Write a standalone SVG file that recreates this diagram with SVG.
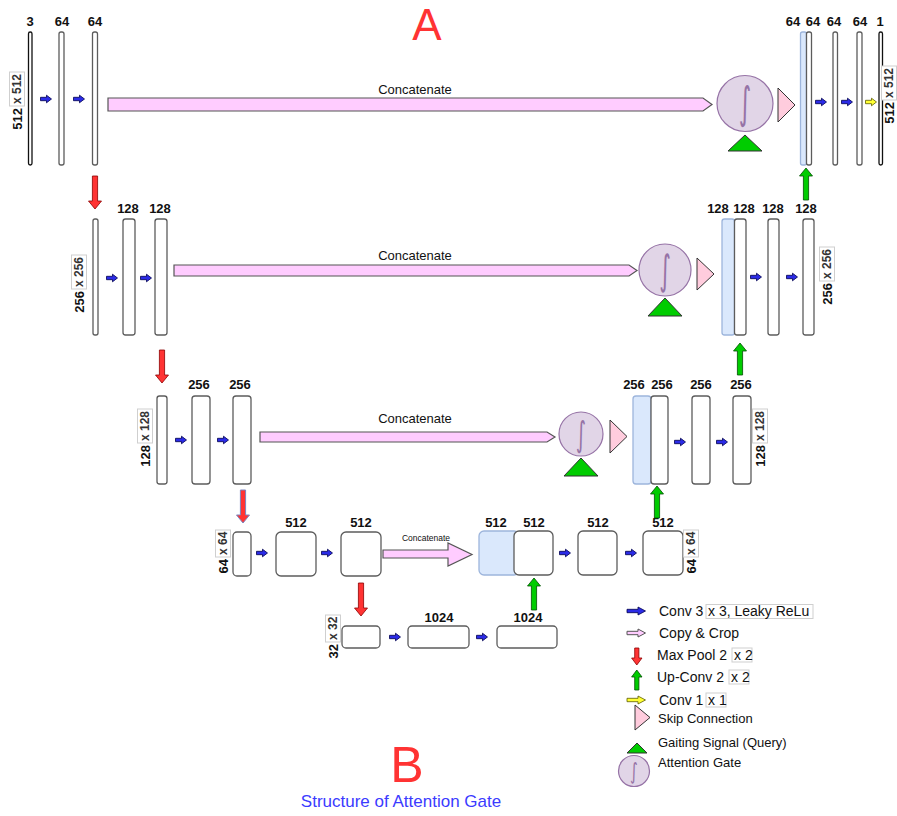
<svg xmlns="http://www.w3.org/2000/svg" width="897" height="816" viewBox="0 0 897 816">
<style>
.bar{fill:#fff;stroke:#5c5c5c;stroke-width:1.3}
.bar0{fill:#fff;stroke:#111;stroke-width:1.3}
.cat{fill:#dae8fc;stroke:#9db5dc;stroke-width:1.3}
.lbl{font:bold 13px "Liberation Sans",Arial,sans-serif;text-anchor:middle;fill:#111}
.dim{font:bold 13px "Liberation Sans",Arial,sans-serif;fill:#111}
.dimb{font:bold 12px "Liberation Sans",Arial,sans-serif;fill:#333}
.dimbox{fill:#fff;stroke:#cfcfcf;stroke-width:1}
.conv{fill:#2b2be6;stroke:#00004d;stroke-width:0.8}
.c11{fill:#ffff33;stroke:#5c5c00;stroke-width:0.8}
.pool{fill:#ff3333;stroke:#8b0000;stroke-width:0.8}
.pool2{fill:#ff3333;stroke:#7a86c0;stroke-width:1}
.up{fill:#00cc00;stroke:#004d00;stroke-width:0.8}
.copy{fill:#ffccff;stroke:#555;stroke-width:1.2}
.skip{fill:#ffccdd;stroke:#333;stroke-width:1}
.gate{fill:#00cc00;stroke:#333;stroke-width:1}
.ag{fill:#e1d5e7;stroke:#9673a6;stroke-width:1.2}
.int{font-family:"DejaVu Sans","Liberation Sans",sans-serif;font-size:30px;fill:#9673a6;text-anchor:middle}
.cc{font:13px "Liberation Sans",Arial,sans-serif;text-anchor:middle;fill:#111}
.leg{font:14px "Liberation Sans",Arial,sans-serif;fill:#111}
.leg2{font:13px "Liberation Sans",Arial,sans-serif;fill:#111}
.legbox{fill:none;stroke:#cfcfcf;stroke-width:1}
</style>
<defs>
<path id="cv" d="M-5.5,-1.7 H0.5 V-3.8 L5.5,0 L0.5,3.8 V1.7 H-5.5 Z"/>
<path id="dn" d="M-2.6,0 H2.6 V25 H6.5 L0,33 L-6.5,25 H-2.6 Z"/>
<path id="upa" d="M0,0 L6.5,8 H2.6 V32 H-2.6 V8 H-6.5 Z"/>
</defs>

<text x="427" y="40" style="font:44px 'Liberation Sans',Arial,sans-serif;fill:#ff3333" text-anchor="middle">A</text>
<text x="407" y="782" style="font:50px 'Liberation Sans',Arial,sans-serif;fill:#ff3333" text-anchor="middle">B</text>
<text x="401" y="807" style="font:17px 'Liberation Sans',Arial,sans-serif;fill:#3b3bff" text-anchor="middle">Structure of Attention Gate</text>

<!-- Row 1 -->
<g id="r1-in"><rect class="bar0" x="28.5" y="32" width="3.5" height="133" rx="1.7"/><text class="lbl" x="30" y="26">3</text>
<g transform="translate(17,106) rotate(-90)"><text class="dim" x="-2" y="4.5" text-anchor="end">512</text><rect class="dimbox" x="0" y="-7.5" width="34" height="15"/><text class="dimb" x="2" y="4.3">x 512</text></g></g>
<g id="r1-c1"><rect class="bar" x="59" y="32" width="5" height="133" rx="2"/><text class="lbl" x="62" y="26">64</text></g>
<g id="r1-c2"><rect class="bar" x="92.5" y="32" width="5" height="133" rx="2"/><text class="lbl" x="95" y="26">64</text></g>
<g id="r1-ag"><circle class="ag" cx="745" cy="103.5" r="28"/><text class="int" transform="translate(745,103.5) scale(0.8,1.45)" y="10">∫</text></g>
<g id="r1-gate"><path class="gate" d="M728,151 L745,135 L762,151 Z"/></g>
<g id="r1-skip"><path class="skip" d="M778,88 L795,105 L778,122 Z"/></g>
<g id="r1-cat"><rect class="cat" x="800.5" y="32" width="6" height="133" rx="2"/><text class="lbl" x="793" y="26">64</text></g>
<g id="r1-u0"><rect class="bar" x="806.5" y="32" width="5" height="133" rx="2"/><text class="lbl" x="813" y="26">64</text></g>
<g id="r1-u1"><rect class="bar" x="833" y="32" width="4.5" height="133" rx="2"/><text class="lbl" x="834" y="26">64</text></g>
<g id="r1-u2"><rect class="bar" x="857" y="32" width="5" height="133" rx="2"/><text class="lbl" x="860" y="26">64</text></g>
<g id="r1-out"><rect class="bar0" x="879" y="32" width="3.5" height="133" rx="1.7"/><text class="lbl" x="880" y="26">1</text>
<g transform="translate(889,100) rotate(-90)"><text class="dim" x="-2" y="4.5" text-anchor="end">512</text><rect class="dimbox" x="0" y="-7.5" width="34" height="15"/><text class="dimb" x="2" y="4.3">x 512</text></g></g>

<!-- Row 2 -->
<g id="r2-in"><rect class="bar" x="93" y="219" width="5" height="116" rx="2"/>
<g transform="translate(79,289) rotate(-90)"><text class="dim" x="-2" y="4.5" text-anchor="end">256</text><rect class="dimbox" x="0" y="-7.5" width="34" height="15"/><text class="dimb" x="2" y="4.3">x 256</text></g></g>
<g id="r2-c1"><rect class="bar" x="123" y="219" width="12" height="116" rx="2.5"/><text class="lbl" x="128" y="213">128</text></g>
<g id="r2-c2"><rect class="bar" x="155" y="219" width="12" height="116" rx="2.5"/><text class="lbl" x="160" y="213">128</text></g>
<g id="r2-ag"><circle class="ag" cx="665" cy="270" r="26"/><text class="int" transform="translate(665,270) scale(0.75,1.35)" y="10">∫</text></g>
<g id="r2-gate"><path class="gate" d="M648,316 L665,298 L682,316 Z"/></g>
<g id="r2-skip"><path class="skip" d="M697,258 L714,274 L697,290 Z"/></g>
<g id="r2-cat"><rect class="cat" x="722" y="219" width="12.5" height="116" rx="2.5"/><text class="lbl" x="718" y="213">128</text></g>
<g id="r2-u0"><rect class="bar" x="734.5" y="219" width="11.5" height="116" rx="2.5"/><text class="lbl" x="744" y="213">128</text></g>
<g id="r2-u1"><rect class="bar" x="768" y="219" width="11" height="116" rx="2.5"/><text class="lbl" x="773" y="213">128</text></g>
<g id="r2-u2"><rect class="bar" x="803" y="219" width="11" height="116" rx="2.5"/><text class="lbl" x="806" y="213">128</text>
<g transform="translate(827,281) rotate(-90)"><text class="dim" x="-2" y="4.5" text-anchor="end">256</text><rect class="dimbox" x="0" y="-7.5" width="34" height="15"/><text class="dimb" x="2" y="4.3">x 256</text></g></g>

<!-- Row 3 -->
<g id="r3-in"><rect class="bar" x="157" y="396" width="10" height="88" rx="2.5"/>
<g transform="translate(145,443) rotate(-90)"><text class="dim" x="-2" y="4.5" text-anchor="end">128</text><rect class="dimbox" x="0" y="-7.5" width="34" height="15"/><text class="dimb" x="2" y="4.3">x 128</text></g></g>
<g id="r3-c1"><rect class="bar" x="192" y="396" width="18" height="88" rx="3"/><text class="lbl" x="199" y="389">256</text></g>
<g id="r3-c2"><rect class="bar" x="233" y="396" width="18" height="88" rx="3"/><text class="lbl" x="240" y="389">256</text></g>
<g id="r3-ag"><circle class="ag" cx="581" cy="434" r="22"/><text class="int" transform="translate(581,434) scale(0.65,1.15)" y="10">∫</text></g>
<g id="r3-gate"><path class="gate" d="M564,476 L581,458 L598,476 Z"/></g>
<g id="r3-skip"><path class="skip" d="M610,420 L627,436.5 L610,453 Z"/></g>
<g id="r3-cat"><rect class="cat" x="633" y="396" width="18" height="88" rx="3"/><text class="lbl" x="634" y="389">256</text></g>
<g id="r3-u0"><rect class="bar" x="651" y="396" width="17" height="88" rx="3"/><text class="lbl" x="662" y="389">256</text></g>
<g id="r3-u1"><rect class="bar" x="692" y="396" width="18" height="88" rx="3"/><text class="lbl" x="701" y="389">256</text></g>
<g id="r3-u2"><rect class="bar" x="733" y="396" width="18" height="88" rx="3"/><text class="lbl" x="741" y="389">256</text>
<g transform="translate(760,443) rotate(-90)"><text class="dim" x="-2" y="4.5" text-anchor="end">128</text><rect class="dimbox" x="0" y="-7.5" width="34" height="15"/><text class="dimb" x="2" y="4.3">x 128</text></g></g>

<!-- Row 4 -->
<g id="r4-in"><rect class="bar" x="233" y="532" width="18" height="44" rx="4"/>
<g transform="translate(223,557) rotate(-90)"><text class="dim" x="-2" y="4.5" text-anchor="end">64</text><rect class="dimbox" x="0" y="-7.5" width="27" height="15"/><text class="dimb" x="2" y="4.3">x 64</text></g></g>
<g id="r4-c1"><rect class="bar" x="276" y="532" width="40" height="44" rx="5"/><text class="lbl" x="296" y="527">512</text></g>
<g id="r4-c2"><rect class="bar" x="341" y="532" width="40" height="44" rx="5"/><text class="lbl" x="361" y="527">512</text></g>
<g id="r4-cat"><rect class="cat" x="479" y="531" width="40" height="44" rx="5"/><text class="lbl" x="496" y="527">512</text></g>
<g id="r4-u0"><rect class="bar" x="514" y="531" width="39" height="44" rx="5"/><text class="lbl" x="534" y="527">512</text></g>
<g id="r4-u1"><rect class="bar" x="578" y="531" width="39" height="44" rx="5"/><text class="lbl" x="598" y="527">512</text></g>
<g id="r4-u2"><rect class="bar" x="643" y="531" width="40" height="44" rx="5"/><text class="lbl" x="663" y="527">512</text>
<g transform="translate(691,557) rotate(-90)"><text class="dim" x="-2" y="4.5" text-anchor="end">64</text><rect class="dimbox" x="0" y="-7.5" width="27" height="15"/><text class="dimb" x="2" y="4.3">x 64</text></g></g>

<!-- Row 5 -->
<g id="r5-in"><rect class="bar" x="342" y="626" width="38" height="22" rx="4"/>
<g transform="translate(333,642) rotate(-90)"><text class="dim" x="-2" y="4.5" text-anchor="end">32</text><rect class="dimbox" x="0" y="-7.5" width="27" height="15"/><text class="dimb" x="2" y="4.3">x 32</text></g></g>
<g id="r5-c1"><rect class="bar" x="408" y="626" width="61" height="22" rx="4"/><text class="lbl" x="439" y="622">1024</text></g>
<g id="r5-c2"><rect class="bar" x="497" y="626" width="60" height="22" rx="4"/><text class="lbl" x="528" y="622">1024</text></g>

<!-- Connectors -->
<g id="connectors">
<use href="#cv" class="conv" x="46" y="99"/>
<use href="#cv" class="conv" x="79" y="99"/>
<use href="#cv" class="conv" x="821" y="102"/>
<use href="#cv" class="conv" x="847" y="102"/>
<use href="#cv" class="c11" x="871" y="102"/>
<use href="#cv" class="conv" x="112" y="278"/>
<use href="#cv" class="conv" x="146" y="278"/>
<use href="#cv" class="conv" x="756" y="277"/>
<use href="#cv" class="conv" x="792" y="277"/>
<use href="#cv" class="conv" x="181" y="440"/>
<use href="#cv" class="conv" x="223" y="440"/>
<use href="#cv" class="conv" x="680" y="442"/>
<use href="#cv" class="conv" x="722" y="442"/>
<use href="#cv" class="conv" x="262" y="553"/>
<use href="#cv" class="conv" x="327" y="553"/>
<use href="#cv" class="conv" x="565" y="553"/>
<use href="#cv" class="conv" x="631" y="553"/>
<use href="#cv" class="conv" x="395" y="637"/>
<use href="#cv" class="conv" x="482" y="637"/>

<use href="#dn" class="pool" x="95" y="176"/>
<use href="#dn" class="pool" x="162" y="350"/>
<use href="#dn" class="pool2" x="243" y="490"/>
<use href="#dn" class="pool" x="361" y="583"/>

<use href="#upa" class="up" x="806" y="168"/>
<use href="#upa" class="up" x="740" y="343"/>
<use href="#upa" class="up" x="657" y="486"/>
<use href="#upa" class="up" x="534" y="578"/>

<path class="copy" d="M108,98 H703 L712,104.5 L703,111 H108 Z"/>
<text class="cc" x="415" y="94">Concatenate</text>
<path class="copy" d="M174,265 H629 L637,270.5 L629,276 H174 Z"/>
<text class="cc" x="415" y="260">Concatenate</text>
<path class="copy" d="M260,432 H547 L555,437 L547,442 H260 Z"/>
<text class="cc" x="415" y="423">Concatenate</text>
<path class="copy" d="M383,550 H448 V543 L472,554.5 L448,566 V558 H383 Z"/>
<text class="cc" x="426" y="541" style="font-size:8.5px">Concatenate</text>
</g>

<!-- Legend -->
<g id="legend">
<path class="conv" d="M627,609.3 H638 V607 L645.5,611 L638,615 V612.7 H627 Z"/>
<text class="leg" x="659" y="616">Conv  3</text>
<rect class="legbox" x="706" y="604.5" width="107" height="14"/>
<text class="leg" x="708" y="616">x 3, Leaky ReLu</text>
<path class="copy" d="M627,631.3 H638 V629 L645.5,633 L638,637 V634.7 H627 Z" style="stroke-width:1"/>
<text class="leg" x="659" y="638">Copy &amp; Crop</text>
<path class="pool" d="M634.7,648 H638.9 V658 H642 L636.8,665 L631.6,658 H634.7 Z"/>
<text class="leg" x="657" y="660">Max Pool 2</text>
<rect class="legbox" x="732" y="648" width="20" height="14"/>
<text class="leg" x="734" y="660">x 2</text>
<path class="up" d="M636.8,670 L642,677 H638.9 V690 H634.7 V677 H631.6 Z"/>
<text class="leg" x="657" y="682">Up-Conv 2</text>
<rect class="legbox" x="729" y="670" width="20" height="14"/>
<text class="leg" x="731" y="682">x 2</text>
<path class="c11" d="M627,698.3 H638 V696 L645.5,700 L638,704 V701.7 H627 Z"/>
<text class="leg" x="659" y="705">Conv 1</text>
<rect class="legbox" x="706" y="693" width="20" height="14"/>
<text class="leg" x="708" y="705">x 1</text>
<path class="skip" d="M635,705 L650,717.5 L635,730 Z"/>
<text class="leg2" x="658" y="723">Skip Connection</text>
<path class="gate" d="M627,753 L637,743 L647,753 Z"/>
<text class="leg2" x="658" y="747">Gaiting Signal (Query)</text>
<circle class="ag" cx="634" cy="771" r="15.5"/>
<text class="int" transform="translate(634,771) scale(0.5,0.75)" y="10">∫</text>
<text class="leg2" x="658" y="767">Attention Gate</text>
</g>
</svg>
